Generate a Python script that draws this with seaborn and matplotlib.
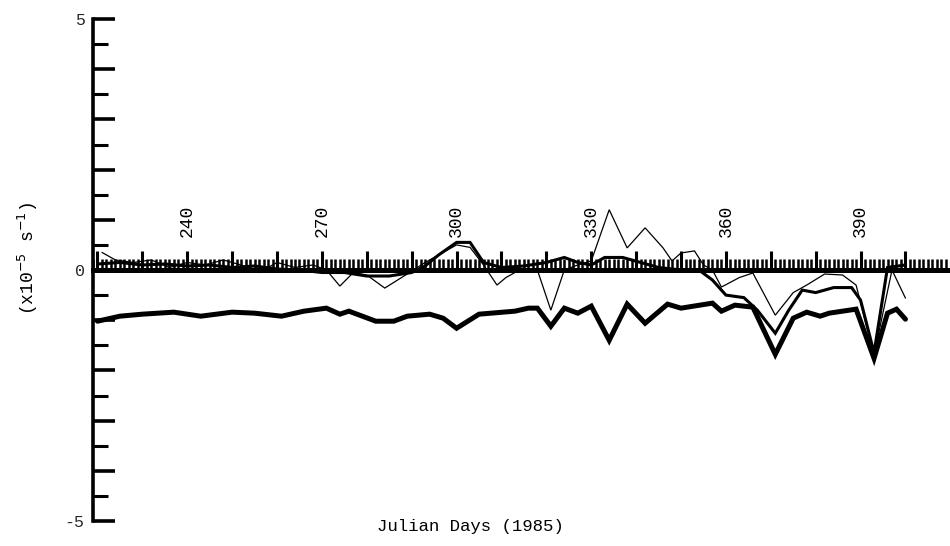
import numpy as np
import pandas as pd
import matplotlib
matplotlib.use("Agg")
import matplotlib.pyplot as plt
from matplotlib.ticker import MultipleLocator, FixedLocator, NullFormatter
import seaborn as sns

# Lower thick curve
days_low = [220, 225, 230, 237, 243, 250, 255, 261, 266, 271, 274, 276, 282, 286,
            289, 294, 297, 300, 305, 313, 316, 318, 321, 324, 327, 330, 334, 338,
            342, 347, 350, 357, 359, 362, 366, 371, 375, 378, 381, 383, 389, 393,
            396, 398, 400]
vals_low = [-1.02, -0.92, -0.88, -0.84, -0.92, -0.84, -0.86, -0.92, -0.82, -0.76,
            -0.88, -0.82, -1.02, -1.02, -0.92, -0.88, -0.96, -1.16, -0.88, -0.82,
            -0.76, -0.76, -1.12, -0.76, -0.86, -0.72, -1.40, -0.68, -1.06, -0.68,
            -0.76, -0.66, -0.82, -0.70, -0.74, -1.68, -0.96, -0.84, -0.92, -0.86,
            -0.78, -1.76, -0.86, -0.78, -0.98]

# Thick curve near zero
days_mid = [220, 225, 230, 235, 240, 245, 250, 255, 260, 265, 270, 275, 280, 285,
            290, 293, 296, 300, 303, 306, 310, 315, 320, 324, 327, 330, 333, 337,
            341, 345, 350, 354, 357, 360, 364, 367, 371, 374, 377, 380, 384, 388,
            390, 393, 396, 400]
vals_mid = [0.12, 0.15, 0.10, 0.12, 0.08, 0.10, 0.05, 0.08, 0.02, 0.0, -0.05,
            -0.05, -0.12, -0.12, -0.05, 0.08, 0.30, 0.55, 0.55, 0.15, 0.05, 0.08,
            0.15, 0.25, 0.15, 0.10, 0.25, 0.25, 0.15, 0.05, 0.0, 0.0, -0.20, -0.50,
            -0.55, -0.80, -1.26, -0.80, -0.40, -0.45, -0.35, -0.35, -0.60, -1.65,
            0.05, 0.10]

# Thin curve near zero
days_thin = [221, 224, 228, 232, 236, 240, 244, 248, 252, 256, 260, 264, 268, 271,
             274, 277, 280, 284, 289, 293, 297, 300, 303, 306, 309, 311, 314, 318,
             321, 324, 327, 330, 334, 338, 342, 346, 348, 350, 353, 355, 357, 359,
             363, 366, 371, 375, 378, 382, 386, 389, 393, 397, 400]
vals_thin = [0.35, 0.20, 0.15, 0.20, 0.05, 0.15, 0.10, 0.20, 0.10, -0.05, 0.15,
             0.05, 0.10, 0.0, -0.32, -0.05, -0.10, -0.36, -0.08, 0.15, 0.35, 0.50,
             0.45, 0.10, -0.30, -0.15, 0.0, 0.0, -0.80, 0.0, 0.10, 0.18, 1.20, 0.44,
             0.84, 0.44, 0.18, 0.34, 0.38, 0.10, 0.0, -0.34, -0.15, -0.06, -0.90,
             -0.45, -0.30, -0.08, -0.10, -0.30, -1.70, 0.0, -0.56]

day_labels = [240, 270, 300, 330, 360, 390]
y_labels = [-5, 0, 5]

sns.set_theme(style="white")
plt.rcParams["font.family"] = ["Liberation Mono", "DejaVu Sans Mono"]

fig = plt.figure(figsize=(9.5, 5.46), dpi=100)
ax = fig.add_axes([93 / 950, 1 - 521 / 546, 1 - 93 / 950 - 0.002, (521 - 19) / 546])

series = [
    (days_low, vals_low, 3.6),
    (days_mid, vals_mid, 2.2),
    (days_thin, vals_thin, 0.9),
]
for d, v, lw in series:
    df = pd.DataFrame({"day": d, "val": v})
    sns.lineplot(data=df, x="day", y="val", ax=ax, color="black", linewidth=lw,
                 solid_joinstyle="miter", zorder=3)

ax.set_xlim(219, 409.5)
ax.set_ylim(-5, 5)

# Spines: the zero line carries the day ticks, left spine the scale
for s in ["top", "right"]:
    ax.spines[s].set_visible(False)
ax.spines["bottom"].set_position(("data", 0))
ax.spines["bottom"].set_linewidth(3.6)
ax.spines["left"].set_linewidth(2.6)
for s in ["bottom", "left"]:
    ax.spines[s].set_color("black")
ax.spines["left"].set_bounds(-5, 5)

ax.xaxis.set_major_locator(MultipleLocator(10))
ax.xaxis.set_minor_locator(MultipleLocator(1))
ax.xaxis.set_major_formatter(NullFormatter())
ax.tick_params(axis="x", which="major", direction="in", length=14, width=2.2,
               color="black", bottom=True)
ax.tick_params(axis="x", which="minor", direction="in", length=8, width=1.8,
               color="black", bottom=True)

ax.yaxis.set_major_locator(FixedLocator([-5, -4, -3, -2, -1, 0, 1, 2, 3, 4, 5]))
ax.yaxis.set_minor_locator(MultipleLocator(0.5))
ax.set_yticklabels(["-5", "", "", "", "", "0", "", "", "", "", "5"])
ax.tick_params(axis="y", which="major", direction="in", length=16, width=2.6,
               color="black", left=True, labelsize=12, pad=6)
ax.tick_params(axis="y", which="minor", direction="in", length=11, width=2.2,
               color="black", left=True)

for d in day_labels:
    ax.text(d, 0.66, str(d), rotation=90, ha="center", va="bottom",
            fontsize=13, color="black")

ax.set_xlabel("")
ax.set_ylabel("")
fig.text(470 / 950, 1 - 527 / 546, "Julian Days (1985)", ha="center",
         va="center", fontsize=12.5, color="black")
fig.text(28 / 950, 1 - 258 / 546, r"(x10$^{-5}$ s$^{-1}$)", rotation=90,
         ha="center", va="center", fontsize=13, color="black")

ax.grid(False)
ax.set_facecolor("white")
fig.savefig("out.png", dpi=100, facecolor="white")
